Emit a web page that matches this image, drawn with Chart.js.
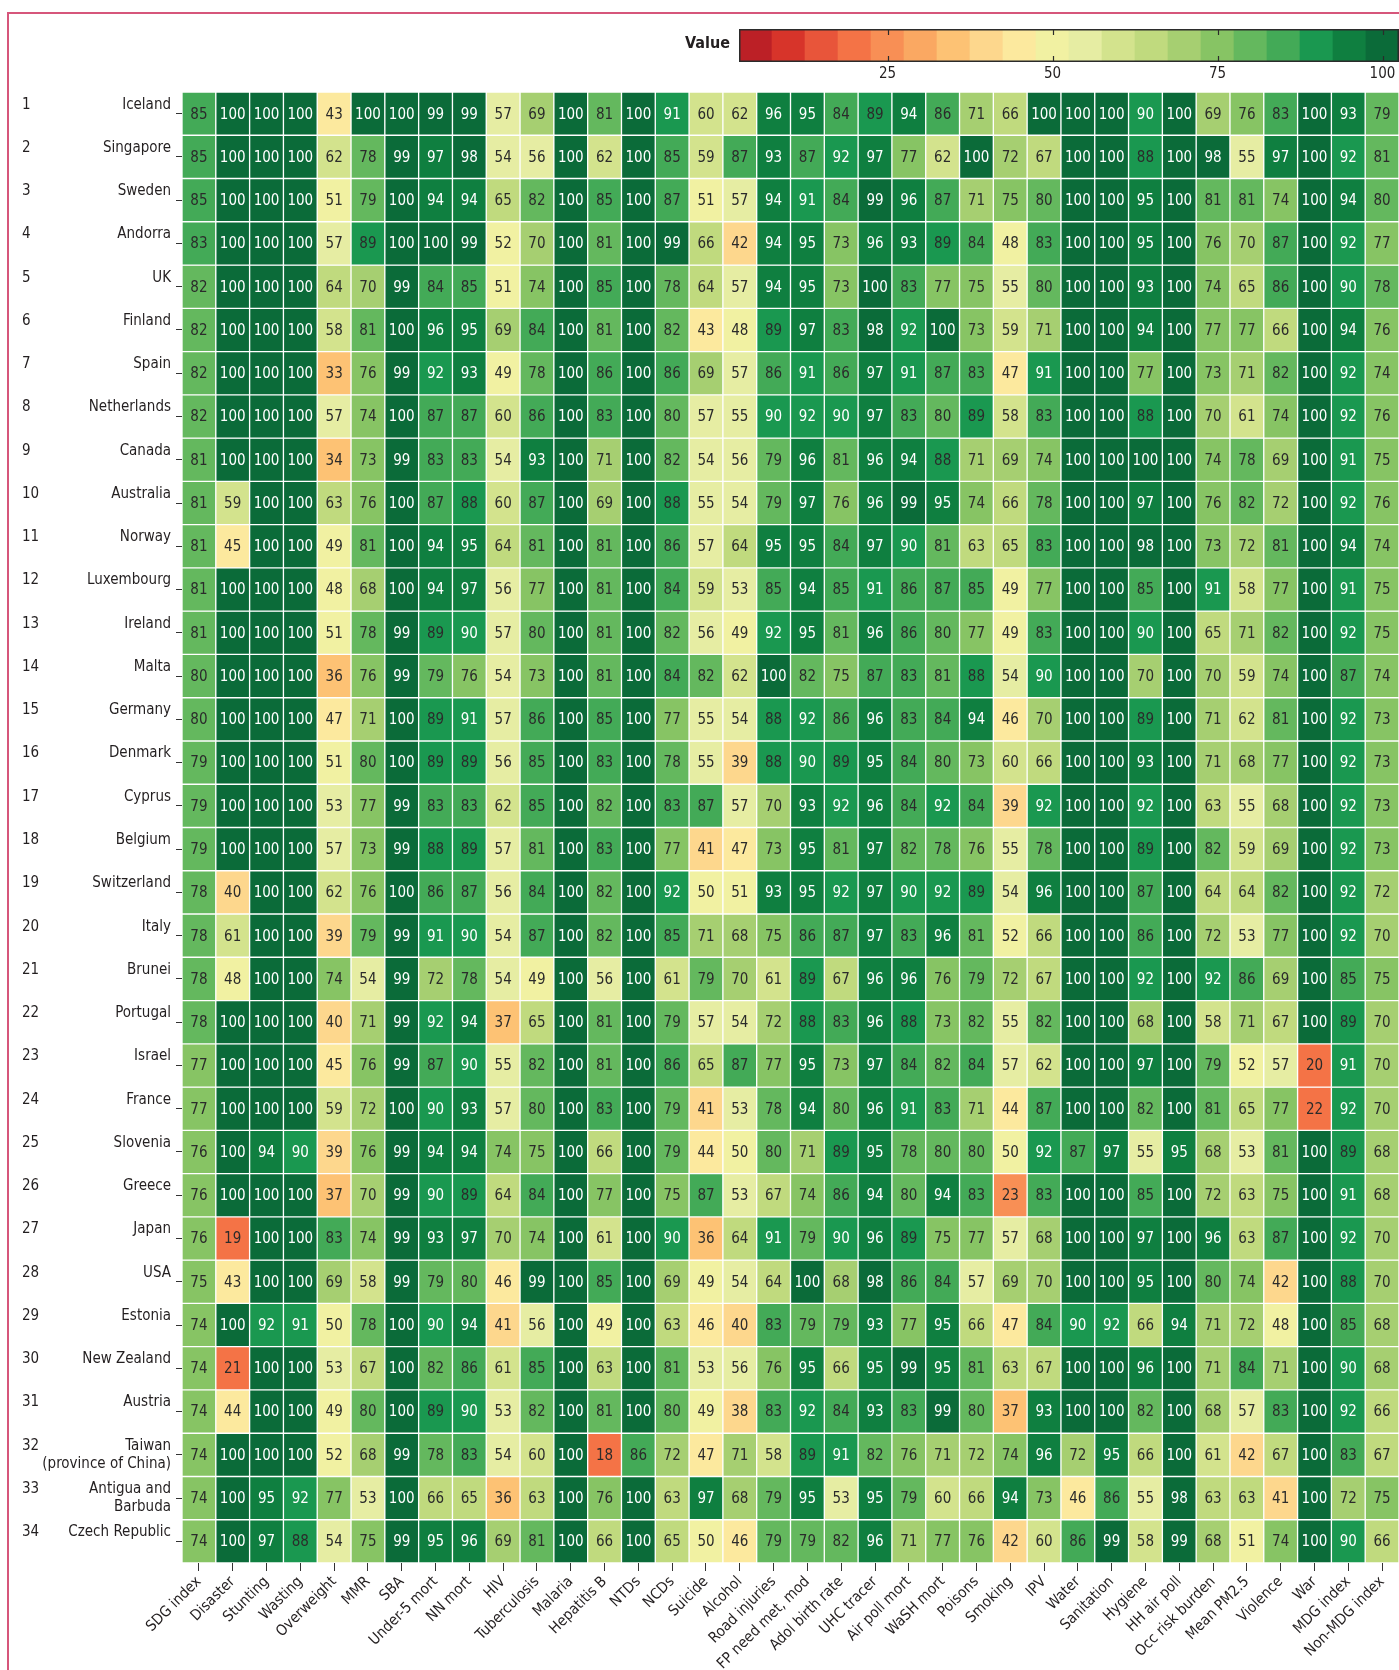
<!DOCTYPE html>
<html>
<head>
<meta charset="utf-8">
<title>SDG indicators heatmap</title>
<script src="https://cdn.jsdelivr.net/npm/chart.js@4.4.0/dist/chart.umd.min.js"></script>
<style>
  body { margin: 0; background: #ffffff; }
  #wrap { position: relative; width: 1399px; height: 1670px; overflow: hidden; }
  #frame { position: absolute; left: 7px; top: 12px; width: 1440px; height: 1720px;
           border-top: 2px solid #d6567b; border-left: 2px solid #d6567b; }
  #heat { position: absolute; left: 0; top: 0; }
  #legend { position: absolute; left: 730px; top: 20px; }
  #legendTitle { position: absolute; left: 630px; top: 33px; width: 100px; text-align: right;
                 font: bold 16px 'DejaVu Sans Condensed', 'DejaVu Sans', sans-serif; color: #231f20; }
</style>
</head>
<body>
<div id="wrap">
  <div id="frame"></div>
  <canvas id="heat" width="1399" height="1670"></canvas>
  <div id="legendTitle">Value</div>
  <canvas id="legend" width="669" height="70"></canvas>
</div>
<script>
// Row labels (rank order) and column labels
const countries = [
    'Iceland', 'Singapore', 'Sweden', 'Andorra', 'UK', 'Finland', 'Spain', 'Netherlands',
    'Canada', 'Australia', 'Norway', 'Luxembourg', 'Ireland', 'Malta', 'Germany', 'Denmark',
    'Cyprus', 'Belgium', 'Switzerland', 'Italy', 'Brunei', 'Portugal', 'Israel', 'France',
    'Slovenia', 'Greece', 'Japan', 'USA', 'Estonia', 'New Zealand', 'Austria',
    ['Taiwan', '(province of China)'], ['Antigua and', 'Barbuda'], 'Czech Republic'
];

const indicators = [
    'SDG index', 'Disaster', 'Stunting', 'Wasting', 'Overweight', 'MMR', 'SBA', 'Under-5 mort',
    'NN mort', 'HIV', 'Tuberculosis', 'Malaria', 'Hepatitis B', 'NTDs', 'NCDs', 'Suicide',
    'Alcohol', 'Road injuries', 'FP need met, mod', 'Adol birth rate', 'UHC tracer',
    'Air poll mort', 'WaSH mort', 'Poisons', 'Smoking', 'IPV', 'Water', 'Sanitation',
    'Hygiene', 'HH air poll', 'Occ risk burden', 'Mean PM2.5', 'Violence', 'War',
    'MDG index', 'Non-MDG index'
];

// one row per country, one value per indicator
const scores = [
    [85,100,100,100,43,100,100,99,99,57,69,100,81,100,91,60,62,96,95,84,89,94,86,71,66,100,100,100,90,100,69,76,83,100,93,79],
    [85,100,100,100,62,78,99,97,98,54,56,100,62,100,85,59,87,93,87,92,97,77,62,100,72,67,100,100,88,100,98,55,97,100,92,81],
    [85,100,100,100,51,79,100,94,94,65,82,100,85,100,87,51,57,94,91,84,99,96,87,71,75,80,100,100,95,100,81,81,74,100,94,80],
    [83,100,100,100,57,89,100,100,99,52,70,100,81,100,99,66,42,94,95,73,96,93,89,84,48,83,100,100,95,100,76,70,87,100,92,77],
    [82,100,100,100,64,70,99,84,85,51,74,100,85,100,78,64,57,94,95,73,100,83,77,75,55,80,100,100,93,100,74,65,86,100,90,78],
    [82,100,100,100,58,81,100,96,95,69,84,100,81,100,82,43,48,89,97,83,98,92,100,73,59,71,100,100,94,100,77,77,66,100,94,76],
    [82,100,100,100,33,76,99,92,93,49,78,100,86,100,86,69,57,86,91,86,97,91,87,83,47,91,100,100,77,100,73,71,82,100,92,74],
    [82,100,100,100,57,74,100,87,87,60,86,100,83,100,80,57,55,90,92,90,97,83,80,89,58,83,100,100,88,100,70,61,74,100,92,76],
    [81,100,100,100,34,73,99,83,83,54,93,100,71,100,82,54,56,79,96,81,96,94,88,71,69,74,100,100,100,100,74,78,69,100,91,75],
    [81,59,100,100,63,76,100,87,88,60,87,100,69,100,88,55,54,79,97,76,96,99,95,74,66,78,100,100,97,100,76,82,72,100,92,76],
    [81,45,100,100,49,81,100,94,95,64,81,100,81,100,86,57,64,95,95,84,97,90,81,63,65,83,100,100,98,100,73,72,81,100,94,74],
    [81,100,100,100,48,68,100,94,97,56,77,100,81,100,84,59,53,85,94,85,91,86,87,85,49,77,100,100,85,100,91,58,77,100,91,75],
    [81,100,100,100,51,78,99,89,90,57,80,100,81,100,82,56,49,92,95,81,96,86,80,77,49,83,100,100,90,100,65,71,82,100,92,75],
    [80,100,100,100,36,76,99,79,76,54,73,100,81,100,84,82,62,100,82,75,87,83,81,88,54,90,100,100,70,100,70,59,74,100,87,74],
    [80,100,100,100,47,71,100,89,91,57,86,100,85,100,77,55,54,88,92,86,96,83,84,94,46,70,100,100,89,100,71,62,81,100,92,73],
    [79,100,100,100,51,80,100,89,89,56,85,100,83,100,78,55,39,88,90,89,95,84,80,73,60,66,100,100,93,100,71,68,77,100,92,73],
    [79,100,100,100,53,77,99,83,83,62,85,100,82,100,83,87,57,70,93,92,96,84,92,84,39,92,100,100,92,100,63,55,68,100,92,73],
    [79,100,100,100,57,73,99,88,89,57,81,100,83,100,77,41,47,73,95,81,97,82,78,76,55,78,100,100,89,100,82,59,69,100,92,73],
    [78,40,100,100,62,76,100,86,87,56,84,100,82,100,92,50,51,93,95,92,97,90,92,89,54,96,100,100,87,100,64,64,82,100,92,72],
    [78,61,100,100,39,79,99,91,90,54,87,100,82,100,85,71,68,75,86,87,97,83,96,81,52,66,100,100,86,100,72,53,77,100,92,70],
    [78,48,100,100,74,54,99,72,78,54,49,100,56,100,61,79,70,61,89,67,96,96,76,79,72,67,100,100,92,100,92,86,69,100,85,75],
    [78,100,100,100,40,71,99,92,94,37,65,100,81,100,79,57,54,72,88,83,96,88,73,82,55,82,100,100,68,100,58,71,67,100,89,70],
    [77,100,100,100,45,76,99,87,90,55,82,100,81,100,86,65,87,77,95,73,97,84,82,84,57,62,100,100,97,100,79,52,57,20,91,70],
    [77,100,100,100,59,72,100,90,93,57,80,100,83,100,79,41,53,78,94,80,96,91,83,71,44,87,100,100,82,100,81,65,77,22,92,70],
    [76,100,94,90,39,76,99,94,94,74,75,100,66,100,79,44,50,80,71,89,95,78,80,80,50,92,87,97,55,95,68,53,81,100,89,68],
    [76,100,100,100,37,70,99,90,89,64,84,100,77,100,75,87,53,67,74,86,94,80,94,83,23,83,100,100,85,100,72,63,75,100,91,68],
    [76,19,100,100,83,74,99,93,97,70,74,100,61,100,90,36,64,91,79,90,96,89,75,77,57,68,100,100,97,100,96,63,87,100,92,70],
    [75,43,100,100,69,58,99,79,80,46,99,100,85,100,69,49,54,64,100,68,98,86,84,57,69,70,100,100,95,100,80,74,42,100,88,70],
    [74,100,92,91,50,78,100,90,94,41,56,100,49,100,63,46,40,83,79,79,93,77,95,66,47,84,90,92,66,94,71,72,48,100,85,68],
    [74,21,100,100,53,67,100,82,86,61,85,100,63,100,81,53,56,76,95,66,95,99,95,81,63,67,100,100,96,100,71,84,71,100,90,68],
    [74,44,100,100,49,80,100,89,90,53,82,100,81,100,80,49,38,83,92,84,93,83,99,80,37,93,100,100,82,100,68,57,83,100,92,66],
    [74,100,100,100,52,68,99,78,83,54,60,100,18,86,72,47,71,58,89,91,82,76,71,72,74,96,72,95,66,100,61,42,67,100,83,67],
    [74,100,95,92,77,53,100,66,65,36,63,100,76,100,63,97,68,79,95,53,95,79,60,66,94,73,46,86,55,98,63,63,41,100,72,75],
    [74,100,97,88,54,75,99,95,96,69,81,100,66,100,65,50,46,79,79,82,96,71,77,76,42,60,86,99,58,99,68,51,74,100,90,66]
];

// colour scale: 20 steps of 5 points each
const binCentres = [5, 10, 15, 20, 25, 30, 35, 40, 45, 50, 55, 60, 65, 70, 75, 80, 85, 90, 95, 100];
const binColors = [
    '#bc2026', '#d7342a', '#e8553a', '#f47346', '#f88f55', '#faa862', '#fdc274', '#fdd78d',
    '#fce99e', '#f1f1a2', '#e6eda3', '#d3e38d', '#c0da7e', '#a6cf71', '#87c464', '#64b85e',
    '#43aa57', '#1a9850', '#0f7f40', '#0b6b39'
];
const legendTicks = [25, 50, 75, 100];

const FONT = "'DejaVu Sans Condensed', 'DejaVu Sans', sans-serif";
const TEXT = '#231f20';

function binColor(v) {
    const i = Math.round(v / 5) - 1;
    return binColors[Math.min(binColors.length - 1, Math.max(0, i))];
}

function rowTicks(scale) {
    scale.ticks = countries.map((c, i) => ({ value: i + 0.5 }));
}

// single-line names get an empty second line so they sit a little above the row centre
function asLines(label) {
    return Array.isArray(label) ? label : [String(label), ''];
}

// writes the score in the middle of every cell
const cellText = {
    id: 'cellText',
    afterDatasetsDraw(chart) {
        const ctx = chart.ctx;
        ctx.save();
        ctx.font = '15px ' + FONT;
        ctx.textAlign = 'center';
        ctx.textBaseline = 'middle';
        chart.data.datasets.forEach((ds, r) => {
            chart.getDatasetMeta(r).data.forEach((bar, c) => {
                const v = scores[r][c];
                ctx.fillStyle = v >= 90 ? '#ffffff' : '#2b2b2b';
                ctx.fillText(String(v), bar.x, (bar.y + bar.base) / 2 + 1);
            });
        });
        ctx.restore();
    }
};

const heatChart = new Chart(document.getElementById('heat'), {
    type: 'bar',
    data: {
        labels: indicators,
        datasets: scores.map((row, r) => ({
            label: asLines(countries[r]).join(' ').trim(),
            data: row.map(() => 1),
            backgroundColor: row.map(binColor),
            borderColor: '#ffffff',
            borderWidth: 1,
            borderSkipped: false,
            barPercentage: 1,
            categoryPercentage: 1,
            yAxisID: 'y'
        }))
    },
    options: {
        responsive: false,
        animation: false,
        events: [],
        layout: { padding: { top: 92, left: 22, right: 0, bottom: 0 } },
        plugins: {
            legend: { display: false },
            tooltip: { enabled: false }
        },
        scales: {
            x: {
                stacked: true,
                grid: { display: true, drawOnChartArea: false, drawTicks: true, tickLength: 8, offset: false, color: '#333333' },
                border: { display: false },
                ticks: { minRotation: 45, maxRotation: 45, autoSkip: false, padding: 2, color: TEXT, font: { family: FONT, size: 15 } },
                afterFit(scale) { scale.height = 107; }
            },
            y: {
                type: 'linear',
                stacked: true,
                position: 'left',
                weight: 0,
                min: 0,
                max: countries.length,
                reverse: true,
                afterBuildTicks: rowTicks,
                grid: { display: true, drawOnChartArea: false, drawTicks: true, tickLength: 6, color: '#333333' },
                border: { display: false },
                ticks: {
                    autoSkip: false,
                    padding: 5,
                    color: TEXT,
                    font: { family: FONT, size: 15 },
                    callback: (v, i) => asLines(countries[i])
                },
                afterFit(scale) { scale.width = 140; }
            },
            rank: {
                type: 'linear',
                position: 'left',
                weight: 10,
                min: 0,
                max: countries.length,
                reverse: true,
                afterBuildTicks: rowTicks,
                grid: { display: false, drawTicks: false },
                border: { display: false },
                ticks: {
                    autoSkip: false,
                    crossAlign: 'far',
                    color: TEXT,
                    font: { family: FONT, size: 15 },
                    callback: (v, i) => asLines(i + 1)
                },
                afterFit(scale) { scale.width = 20; }
            }
        }
    },
    plugins: [cellText]
});

// frame and small tick marks of the colour bar
const legendFrame = {
    id: 'legendFrame',
    afterDatasetsDraw(chart) {
        const { ctx, chartArea: a } = chart;
        const sc = chart.scales.v;
        ctx.save();
        ctx.strokeStyle = '#2b2b2b';
        ctx.lineWidth = 1.5;
        ctx.strokeRect(a.left + 0.75, a.top + 0.75, a.width - 1.5, a.height - 1.5);
        ctx.lineWidth = 1.2;
        legendTicks.forEach(t => {
            const x = Math.round(sc.getPixelForValue(t)) + 0.5;
            ctx.beginPath();
            ctx.moveTo(x, a.top);
            ctx.lineTo(x, a.top + 6);
            ctx.moveTo(x, a.bottom);
            ctx.lineTo(x, a.bottom - 6);
            ctx.stroke();
        });
        ctx.restore();
    }
};

const legendChart = new Chart(document.getElementById('legend'), {
    type: 'bar',
    data: {
        labels: binCentres,
        datasets: [{
            data: binCentres.map(() => 1),
            backgroundColor: binColors,
            borderWidth: 0,
            barPercentage: 1,
            categoryPercentage: 1
        }]
    },
    options: {
        responsive: false,
        animation: false,
        events: [],
        layout: { padding: { left: 9, top: 9, right: 0, bottom: 0 } },
        plugins: {
            legend: { display: false },
            tooltip: { enabled: false }
        },
        scales: {
            x: { display: false },
            y: { display: false, min: 0, max: 1 },
            v: {
                type: 'linear',
                position: 'bottom',
                offset: false,
                min: 2.5,
                max: 102.5,
                afterBuildTicks(scale) { scale.ticks = legendTicks.map(t => ({ value: t })); },
                grid: { display: false, drawTicks: false },
                border: { display: false },
                ticks: { padding: 3, color: TEXT, font: { family: FONT, size: 15 } },
                afterFit(scale) { scale.height = 28; }
            }
        }
    },
    plugins: [legendFrame]
});
</script>
</body>
</html>
